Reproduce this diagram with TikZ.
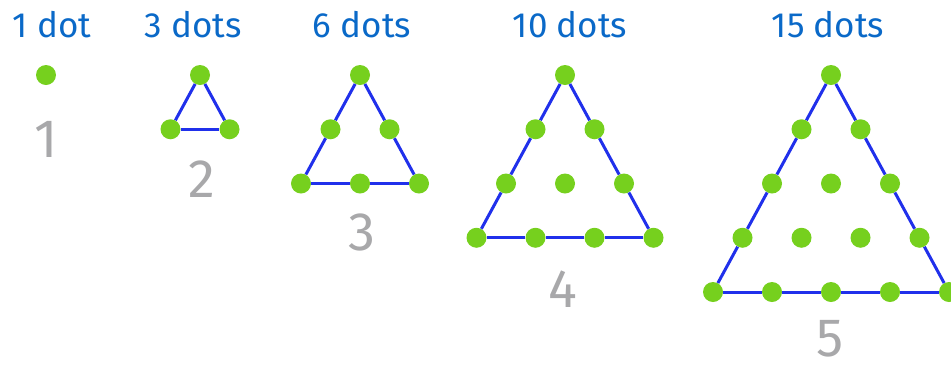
\documentclass[tikz,border=0pt]{standalone}
\usepackage{fontspec}
\setmainfont{Fira Sans}
\usetikzlibrary{positioning}
\definecolor{dotgreen}{RGB}{118,208,30}
\definecolor{edgeblue}{RGB}{32,48,235}
\definecolor{capblue}{RGB}{10,105,200}
\definecolor{numgray}{RGB}{168,168,170}
\tikzset{
  dot/.style={circle,fill=dotgreen,inner sep=0pt,minimum size=20pt},
  side/.style={edgeblue,line width=3pt},
  dotcount/.style={anchor=base,text=capblue,font=\fontsize{35}{35}\selectfont},
  num/.style={anchor=base,inner sep=0pt,text=numgray,font=\fontsize{54}{54}\selectfont}
}
\begin{document}
\begin{tikzpicture}[x=1pt,y=-1pt]
\useasboundingbox (0,0) rectangle (951,365);
% dots: triangle n, row r, place k
\foreach \n/\cx in {1/46,2/200,3/360,4/565,5/831}{
  \foreach \r in {1,...,\n}{
    \foreach \k in {1,...,\r}{
      \node[dot] (d\n-\r-\k) at ({\cx+(\k-(\r+1)/2)*59},{75+(\r-1)*54.25}) {};
    }
  }
}
% sides, from dot to dot
\foreach \n in {2,...,5}{
  \pgfmathtruncatemacro\m{\n-1}
  \foreach \r in {1,...,\m}{
    \pgfmathtruncatemacro\s{\r+1}
    \draw[side] (d\n-\r-1) -- (d\n-\s-1);
    \draw[side] (d\n-\r-\r) -- (d\n-\s-\s);
    \draw[side] (d\n-\n-\r) -- (d\n-\n-\s);
  }
}
% captions
\node[dotcount] (count1) at (52,37) {1 dot};
\node[dotcount] (count2) at (193,37) {3 dots};
\node[dotcount] (count3) at (362,37) {6 dots};
\node[dotcount] (count4) at (570,37) {10 dots};
\node[dotcount] (count5) at (828,37) {15 dots};
% numbers
\node[num] (num1) at (46,157) {1};
\node[num] (num2) at (202,197) {2};
\node[num] (num3) at (362,250) {3};
\node[num] (num4) at (563,307) {4};
\node[num] (num5) at (830,356) {5};
\end{tikzpicture}
\end{document}
